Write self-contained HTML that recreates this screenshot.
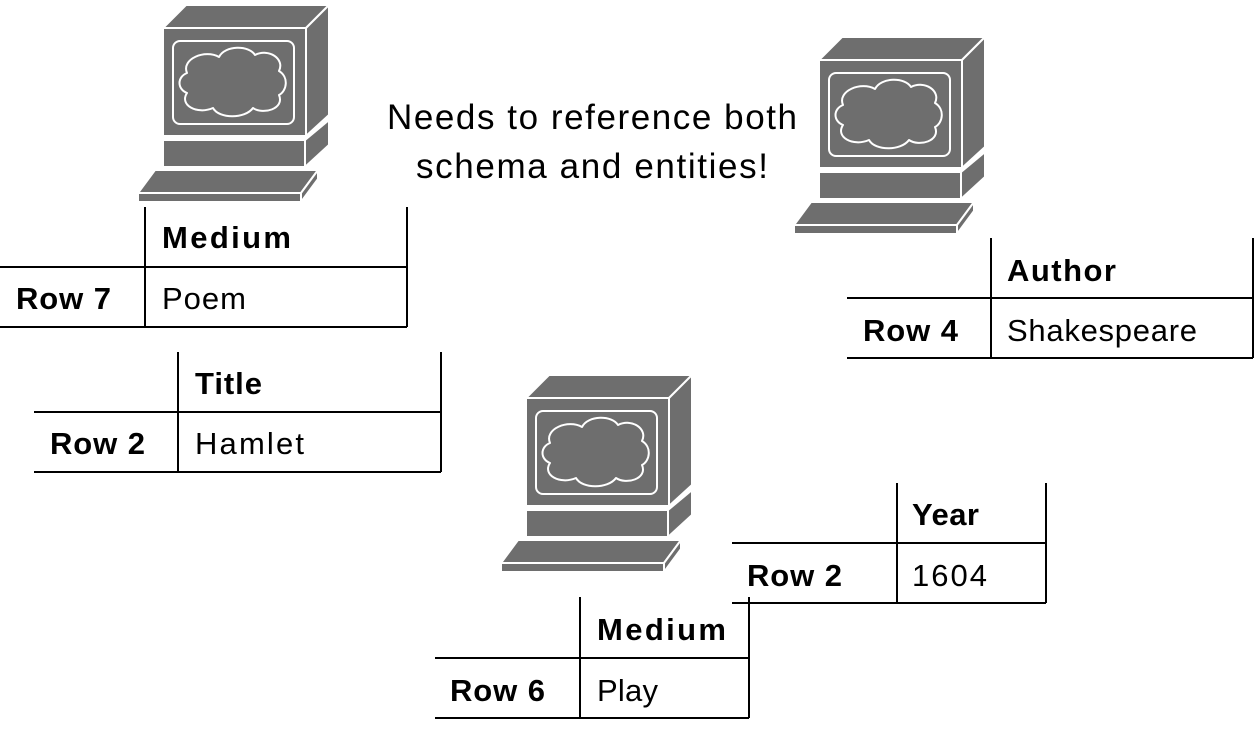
<!DOCTYPE html>
<html><head><style>
body{margin:0;background:#fff;width:1256px;height:734px;overflow:hidden}
svg text{font-family:"Liberation Sans",sans-serif;fill:#000}
</style></head><body>
<svg width="1256" height="734" viewBox="0 0 1256 734">
<defs>
<g id="pc" stroke="#fff" stroke-width="2" fill="#6e6e6e" stroke-linejoin="round">
<polygon points="26,23 49,0 192,0 169,23"/>
<polygon points="169,23 192,0 192,110 169,131"/>
<rect x="26" y="23" width="143" height="108"/>
<rect x="36" y="36" width="121" height="83" rx="7"/>
<path d="M50,68 C44,54 68,44 82,52 C88,40 112,40 118,50 C132,43 148,54 142,66 C152,72 150,86 142,90 C148,104 126,110 116,103 C108,114 82,114 76,103 C60,110 42,100 50,88 C40,84 40,72 50,68 Z"/>
<polygon points="168,135 192,115 192,140 168,162"/>
<rect x="26" y="135" width="142" height="27"/>
<polygon points="1,188 18,165 181,165 164,188"/>
<polygon points="164,188 181,165 181,174 164,197"/>
<rect x="1" y="188" width="163" height="9"/>
</g>
</defs>
<use href="#pc" transform="translate(137,5)"/>
<use href="#pc" transform="translate(793,37)"/>
<use href="#pc" transform="translate(500,375)"/>

<g stroke="#000" stroke-width="2" fill="none">
<path d="M145,207V327M0,267H407M0,327H407M407,207V327"/>
<path d="M178,352V472M34,412H441M34,472H441M441,352V472"/>
<path d="M991,238V358M847,298H1253M847,358H1253M1253,238V358"/>
<path d="M897,483V603M732,543H1046M732,603H1046M1046,483V603"/>
<path d="M580,597V718M435,658H749M435,718H749M749,597V718"/>
</g>
<g font-size="31">
<text x="162" y="248" font-weight="bold" textLength="129">Medium</text>
<text x="16" y="309" font-weight="bold" textLength="95">Row 7</text>
<text x="162" y="309" textLength="84">Poem</text>
<text x="195" y="394" font-weight="bold" textLength="67">Title</text>
<text x="50" y="454" font-weight="bold" textLength="95">Row 2</text>
<text x="195" y="454" textLength="109">Hamlet</text>
<text x="1007" y="281" font-weight="bold" textLength="109">Author</text>
<text x="863" y="341" font-weight="bold" textLength="95">Row 4</text>
<text x="1007" y="341" textLength="190">Shakespeare</text>
<text x="912" y="525" font-weight="bold" textLength="67">Year</text>
<text x="747" y="586" font-weight="bold" textLength="95">Row 2</text>
<text x="912" y="586" textLength="75">1604</text>
<text x="597" y="640" font-weight="bold" textLength="129">Medium</text>
<text x="450" y="701" font-weight="bold" textLength="95">Row 6</text>
<text x="597" y="701" textLength="61">Play</text>
</g>
<g font-size="35">
<text x="387" y="129" textLength="410">Needs to reference both</text>
<text x="416" y="178" textLength="352">schema and entities!</text>
</g>
</svg>
</body></html>
